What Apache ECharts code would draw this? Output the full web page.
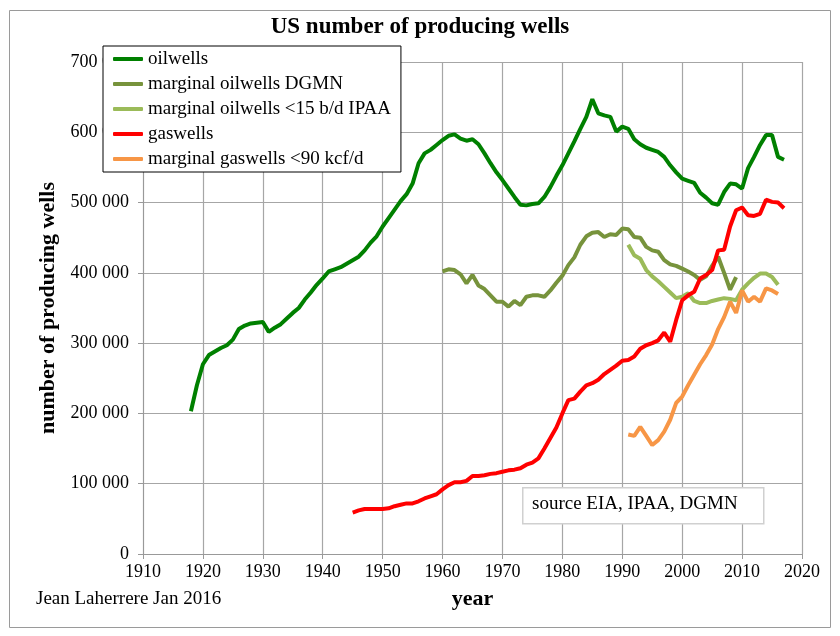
<!DOCTYPE html>
<html>
<head>
<meta charset="utf-8">
<title>US number of producing wells</title>
<script src="https://cdn.jsdelivr.net/npm/echarts@6/dist/echarts.min.js"></script>
<style>
	html, body { margin: 0; padding: 0; background: #fff; }
	#chart { width: 840px; height: 636px; }
</style>
</head>
<body>
<div id="chart"></div>
<script>
// values in thousands of wells, one per year starting at the *Start year
var oilStart = 1918;
var oilwells = [203, 240, 270, 283, 288, 293, 297, 305, 320, 325,
	328, 329, 330, 316, 322, 327, 335, 343, 350, 362,
	372, 383, 392, 402, 405, 408, 413, 418, 423, 432,
	443, 452, 466, 478, 490, 502, 512, 527, 556, 570,
	575, 582, 589, 595, 597, 591, 588, 590, 583, 570,
	556, 543, 532, 520, 508, 497, 496, 498, 499, 508,
	522, 538, 553, 570, 587, 605, 622, 647, 627, 624,
	622, 601, 608, 605, 590, 583, 578, 575, 572, 565,
	553, 543, 534, 531, 528, 514, 507, 499, 497, 515,
	527, 526, 520, 549, 565, 582, 596, 596, 565, 561];

var dgmnStart = 1960;
var marginalDGMN = [402, 405, 404, 398, 385, 397, 382, 377, 368, 359,
	359, 352, 360, 354, 366, 368, 368, 366, 375, 386,
	396, 411, 422, 440, 452, 457, 458, 451, 455, 454,
	463, 462, 451, 450, 437, 432, 430, 418, 412, 410,
	406, 402, 397, 390, 395, 410, 423, 400, 376, 394];

var ipaaStart = 1991;
var marginalIPAA = [440, 425, 420, 404, 395, 388, 380, 372, 364, 366,
	371, 360, 357, 357, 360, 362, 364, 363, 361, 376,
	385, 393, 399, 399, 394, 383];

var gasStart = 1945;
var gaswells = [59, 62, 64, 64, 64, 64, 65, 68, 70, 72,
	72, 75, 79, 82, 85, 92, 98, 102, 102, 104,
	111, 111, 112, 114, 115, 117, 119, 120, 122, 127,
	130, 136, 150, 165, 180, 200, 219, 221, 231, 240,
	243, 248, 256, 262, 268, 275, 276, 281, 292, 297,
	300, 304, 315, 302, 333, 361, 368, 373, 392, 397,
	404, 432, 433, 466, 489, 493, 482, 481, 484, 504,
	501, 500, 492];

var marginalGasStart = 1991;
var marginalGas = [170, 168, 181, 168, 155, 162, 174, 191, 215, 224,
	240, 255, 270, 283, 298, 320, 337, 359, 343, 375,
	359, 366, 359, 378, 375, 370];

var seriesNames = ['oilwells', 'marginal oilwells DGMN', 'marginal oilwells <15 b/d IPAA',
	'gaswells', 'marginal gaswells <90 kcf/d'];
var seriesColors = ['#008000', '#77933c', '#9bbb59', '#ff0000', '#f79646'];

function pairs(start, values) {
	var out = [];
	for (var i = 0; i < values.length; i++) {
		out.push([start + i, values[i]]);
	}
	return out;
}

var seriesData = [
	pairs(oilStart, oilwells),
	pairs(dgmnStart, marginalDGMN),
	pairs(ipaaStart, marginalIPAA),
	pairs(gasStart, gaswells),
	pairs(marginalGasStart, marginalGas)
];

var serif = '"Liberation Serif", "Times New Roman", serif';

var series = [];
for (var k = 0; k < seriesNames.length; k++) {
	series.push({
		name: seriesNames[k],
		type: 'line',
		data: seriesData[k],
		showSymbol: false,
		symbol: 'none',
		color: seriesColors[k],
		lineStyle: { width: 4, color: seriesColors[k] },
		z: 2
	});
}

var myChart = echarts.init(document.getElementById('chart'));
myChart.setOption({
	animation: false,
	backgroundColor: '#fff',
	title: {
		text: 'US number of producing wells',
		left: 'center',
		top: 11,
		textStyle: { fontFamily: serif, fontSize: 23, fontWeight: 'bold', color: '#000' }
	},
	legend: {
		orient: 'vertical',
		left: 103,
		top: 46,
		padding: [3, 10, 3, 10],
		itemGap: 5,
		itemWidth: 30,
		itemHeight: 4,
		icon: 'roundRect',
		backgroundColor: '#fff',
		borderColor: '#000',
		borderWidth: 1,
		textStyle: { fontFamily: serif, fontSize: 19, color: '#000', lineHeight: 20 },
		data: seriesNames
	},
	grid: { left: 143, right: 38, top: 62, bottom: 82 },
	xAxis: {
		type: 'value',
		min: 1910,
		max: 2020,
		interval: 10,
		name: 'year',
		nameLocation: 'middle',
		nameGap: 34,
		nameTextStyle: { fontFamily: serif, fontSize: 22, fontWeight: 'bold', color: '#000' },
		axisLine: { lineStyle: { color: '#999' } },
		axisTick: { show: true, length: 5, lineStyle: { color: '#999' } },
		axisLabel: {
			fontFamily: serif, fontSize: 18, color: '#000', margin: 9,
			formatter: function(v) { return String(v); }
		},
		splitLine: { show: true, lineStyle: { color: '#a6a6a6', width: 1.2 } }
	},
	yAxis: {
		type: 'value',
		min: 0,
		max: 700,
		interval: 100,
		name: 'number of producing wells',
		nameLocation: 'middle',
		nameGap: 77,
		nameTextStyle: { fontFamily: serif, fontSize: 22, fontWeight: 'bold', color: '#000' },
		axisLine: { show: true, lineStyle: { color: '#999' } },
		axisTick: { show: true, length: 5, lineStyle: { color: '#999' } },
		axisLabel: {
			fontFamily: serif, fontSize: 18, color: '#000', margin: 14,
			formatter: function(v) { return v === 0 ? '0' : v + ' 000'; }
		},
		splitLine: { show: true, lineStyle: { color: '#a6a6a6', width: 1.2 } }
	},
	graphic: [
		{
			type: 'rect',
			left: 7, top: 8,
			shape: { width: 821, height: 617 },
			style: { fill: 'none', stroke: '#9a9a9a', lineWidth: 1 },
			silent: true
		},
		{
			type: 'rect',
			left: 522, top: 487,
			shape: { width: 241, height: 36 },
			style: { fill: '#fff', stroke: '#d0d0d0', lineWidth: 1.5 },
			z: 10
		},
		{
			type: 'text',
			left: 532, top: 495,
			style: { text: 'source EIA, IPAA, DGMN', fill: '#000', font: '19px ' + serif },
			z: 11
		},
		{
			type: 'text',
			left: 36, top: 590,
			style: { text: 'Jean Laherrere Jan 2016', fill: '#000', font: '19px ' + serif },
			z: 11
		}
	],
	series: series
});
</script>
</body>
</html>
